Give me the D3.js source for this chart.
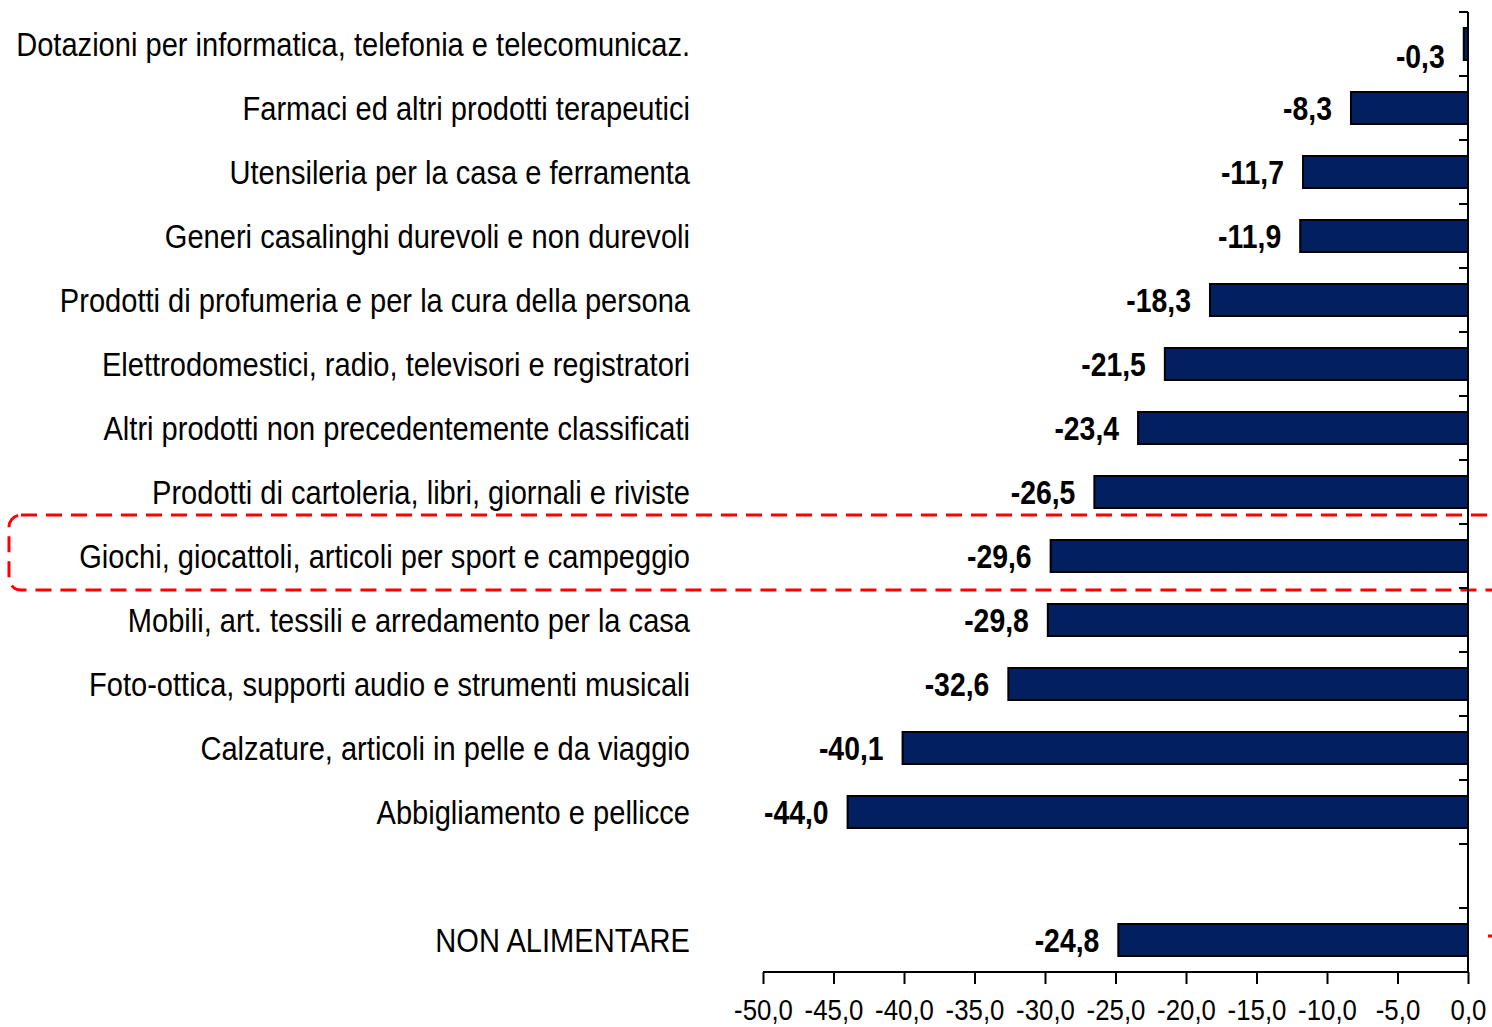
<!DOCTYPE html>
<html>
<head>
<meta charset="utf-8">
<script src="https://cdn.jsdelivr.net/npm/d3@7"></script>
<style>
  body { margin: 0; background: #fff; }
  svg { display: block; }
  text { font-family: "Liberation Sans", Arial, sans-serif; }
</style>
</head>
<body>
<div id="chart"></div>
<script>
const categories = [
  "Dotazioni per informatica, telefonia e telecomunicaz.",
  "Farmaci ed altri prodotti terapeutici",
  "Utensileria per la casa e ferramenta",
  "Generi casalinghi durevoli e non durevoli",
  "Prodotti di profumeria e per la cura della persona",
  "Elettrodomestici, radio, televisori e registratori",
  "Altri prodotti non precedentemente classificati",
  "Prodotti di cartoleria, libri, giornali e riviste",
  "Giochi, giocattoli, articoli per sport e campeggio",
  "Mobili, art. tessili e arredamento per la casa",
  "Foto-ottica, supporti audio e strumenti musicali",
  "Calzature, articoli in pelle e da viaggio",
  "Abbigliamento e pellicce",
  "",
  "NON ALIMENTARE"
];
const values = [-0.3, -8.3, -11.7, -11.9, -18.3, -21.5, -23.4, -26.5, -29.6, -29.8, -32.6, -40.1, -44.0, null, -24.8];
const tickValues = [-50, -45, -40, -35, -30, -25, -20, -15, -10, -5, 0];
const highlighted = "Giochi, giocattoli, articoli per sport e campeggio";

const width = 1492, height = 1027;
const margin = {left: 763, top: 12, right: 24, bottom: 55};
const labelRight = 690;

const fmt = v => v.toFixed(1).replace(".", ",");

const svg = d3.select("#chart").append("svg")
    .attr("width", width)
    .attr("height", height);

const x = d3.scaleLinear()
    .domain([-50, 0])
    .range([margin.left, width - margin.right]);

const y = d3.scaleBand()
    .domain(d3.range(categories.length))
    .range([margin.top, height - margin.bottom])
    .paddingInner(0.5)
    .paddingOuter(0.25);

const slot = y.step();
const mid = i => y(i) + y.bandwidth() / 2;

// narrow look: squeeze text horizontally round its anchor point
function squeeze(sel, k, px, py) {
    sel.attr("x", 0).attr("y", 0)
       .attr("transform", d => `translate(${px(d)}, ${py(d)}) scale(${k}, 1)`);
}

// highlight box round the chosen category
const hi = categories.indexOf(highlighted);
svg.append("rect")
    .attr("x", 9)
    .attr("y", mid(hi) - 41)
    .attr("width", 1520)
    .attr("height", 75)
    .attr("rx", 12)
    .attr("fill", "none")
    .attr("stroke", "#ff0000")
    .attr("stroke-width", 3)
    .attr("stroke-dasharray", "16,9");

const rows = categories.map((c, i) => ({name: c, value: values[i], i: i}));
const filled = rows.filter(d => d.value !== null);

// bars
svg.selectAll("rect.bar")
    .data(filled)
    .enter().append("rect")
    .attr("class", "bar")
    .attr("x", d => x(d.value))
    .attr("y", d => y(d.i))
    .attr("width", d => x(0) - x(d.value))
    .attr("height", y.bandwidth())
    .attr("fill", "#022060")
    .attr("stroke", "#000")
    .attr("stroke-width", 2);

// value labels
svg.selectAll("text.val")
    .data(filled)
    .enter().append("text")
    .attr("class", "val")
    .attr("dy", "0.36em")
    .attr("text-anchor", "end")
    .attr("font-size", 33)
    .attr("font-weight", "bold")
    .attr("fill", "#000")
    .text(d => fmt(d.value))
    .call(squeeze, 0.86, d => x(d.value) - 19, d => mid(d.i) + (d.value > -1 ? 12 : 0));

// category labels
const cats = svg.selectAll("text.cat")
    .data(rows.filter(d => d.name !== ""))
    .enter().append("text")
    .attr("class", "cat")
    .attr("dy", "0.36em")
    .attr("text-anchor", "end")
    .attr("font-size", 34)
    .attr("fill", "#000")
    .text(d => d.name);
const longest = cats.filter((d, i) => i === 0).node().getComputedTextLength();
cats.call(squeeze, (labelRight - 16) / longest, () => labelRight, d => mid(d.i));

// vertical axis with ticks between slots
const yTicks = d3.range(categories.length + 1).map(i => margin.top + i * slot);
svg.append("line")
    .attr("x1", x(0)).attr("x2", x(0))
    .attr("y1", margin.top).attr("y2", height - margin.bottom)
    .attr("stroke", "#000").attr("stroke-width", 2);
svg.selectAll("line.ytick")
    .data(yTicks)
    .enter().append("line")
    .attr("class", "ytick")
    .attr("x1", x(0) - 9).attr("x2", x(0))
    .attr("y1", d => d).attr("y2", d => d)
    .attr("stroke", "#000").attr("stroke-width", 2);

// horizontal axis
const xAxis = d3.axisBottom(x)
    .tickValues(tickValues)
    .tickSize(12)
    .tickFormat(fmt);
const xg = svg.append("g")
    .attr("transform", `translate(0, ${height - margin.bottom})`)
    .call(xAxis);
xg.select(".domain").attr("stroke-width", 2).attr("d", `M${x(-50)},0H${x(0)}`);
xg.selectAll(".tick line").attr("stroke-width", 2);
xg.selectAll(".tick text")
    .attr("font-family", "\"Liberation Sans\", Arial, sans-serif")
    .attr("font-size", 30)
    .attr("fill", "#000")
    .attr("dy", "0.71em")
    .call(squeeze, 0.86, () => 0, () => 27);

// small red mark at the right edge
svg.append("line")
    .attr("x1", 1488).attr("x2", 1492)
    .attr("y1", mid(14) - 4).attr("y2", mid(14) - 4)
    .attr("stroke", "#ff0000").attr("stroke-width", 3);
</script>
</body>
</html>
